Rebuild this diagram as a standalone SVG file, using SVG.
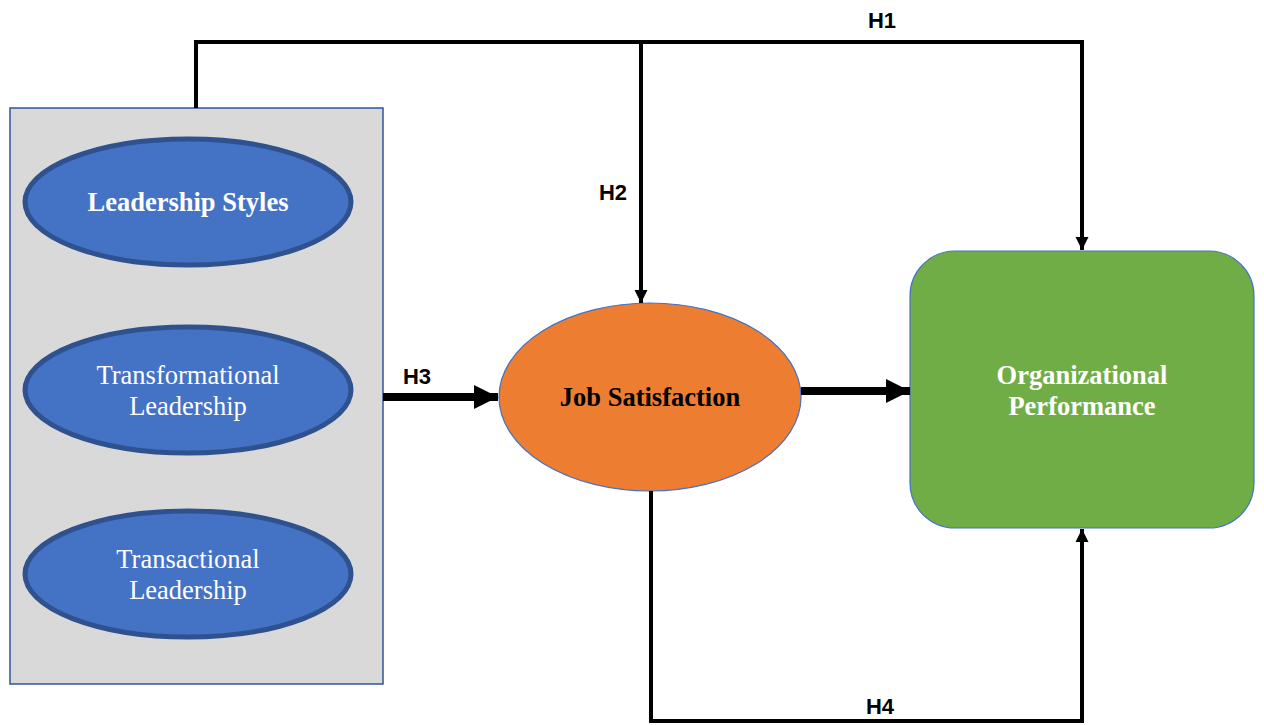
<svg xmlns="http://www.w3.org/2000/svg" width="1264" height="725" viewBox="0 0 1264 725">
<style>
.blue{fill:#4472C4;stroke:#2F528F;stroke-width:5}
.serif{font-family:"Liberation Serif","Times New Roman",serif;font-size:26.5px;text-anchor:middle}
.lab{font-family:"Liberation Sans",Arial,sans-serif;font-size:22px;font-weight:bold;fill:#000;text-anchor:middle}
.thin{fill:none;stroke:#000;stroke-width:4}
.thick{fill:none;stroke:#000;stroke-width:8}
</style>
<defs>
<marker id="ah" markerUnits="userSpaceOnUse" markerWidth="16" markerHeight="16" refX="13" refY="8" orient="auto"><path d="M0,1.5 L13,8 L0,14.5 Z" fill="#000"/></marker>
<marker id="ahb" markerUnits="userSpaceOnUse" markerWidth="26" markerHeight="28" refX="24" refY="14" orient="auto"><path d="M0,2 L24,14 L0,26 Z" fill="#000"/></marker>
</defs>
<g id="leadership-group">
<rect x="10" y="108" width="373" height="576" fill="#D9D9D9" stroke="#2F5597" stroke-width="1.5"/>
</g>
<g id="leadership-styles">
<ellipse class="blue" cx="188" cy="202" rx="163" ry="63"/>
<text class="serif" x="188" y="211" fill="#fff" font-weight="bold">Leadership Styles</text>
</g>
<g id="transformational">
<ellipse class="blue" cx="188" cy="390" rx="163" ry="63"/>
<text class="serif" x="188" y="384" fill="#fff">Transformational</text>
<text class="serif" x="188" y="415" fill="#fff">Leadership</text>
</g>
<g id="transactional">
<ellipse class="blue" cx="188" cy="574" rx="163" ry="63"/>
<text class="serif" x="188" y="568" fill="#fff">Transactional</text>
<text class="serif" x="188" y="599" fill="#fff">Leadership</text>
</g>
<g id="job-satisfaction">
<ellipse cx="650" cy="397" rx="151" ry="94" fill="#ED7D31" stroke="#4472C4" stroke-width="1.2"/>
<text class="serif" x="650" y="406" fill="#000" font-weight="bold">Job Satisfaction</text>
</g>
<g id="org-performance">
<rect x="910" y="251" width="344" height="277" rx="45" ry="45" fill="#70AD47" stroke="#4472C4" stroke-width="1.2"/>
<text class="serif" x="1082" y="384" fill="#fff" font-weight="bold">Organizational</text>
<text class="serif" x="1082" y="415" fill="#fff" font-weight="bold">Performance</text>
</g>
<g id="connectors">
<path class="thin" d="M196,108 V42 H1082 V250" marker-end="url(#ah)"/>
<path class="thin" d="M641,42 V303" marker-end="url(#ah)"/>
<path class="thin" d="M651,491 V721 H1082 V529" marker-end="url(#ah)"/>
<path class="thick" d="M383,397 H498" marker-end="url(#ahb)"/>
<path class="thick" d="M801,391 H910" marker-end="url(#ahb)"/>
<text class="lab" x="882" y="28">H1</text>
<text class="lab" x="613" y="200">H2</text>
<text class="lab" x="417" y="384">H3</text>
<text class="lab" x="880" y="714">H4</text>
</g>
</svg>
